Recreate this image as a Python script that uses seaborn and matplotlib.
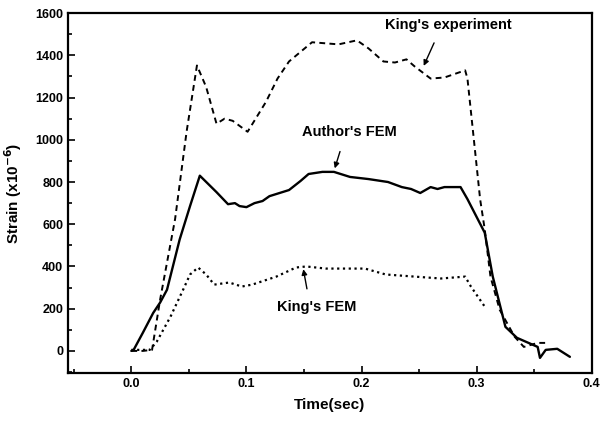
import matplotlib
matplotlib.use("Agg")
import matplotlib.pyplot as plt
import seaborn as sns
import pandas as pd
from matplotlib.ticker import MultipleLocator

# King's experiment (dashed)
exp_t = [0.0, 0.010, 0.018, 0.025, 0.038, 0.048, 0.057, 0.065, 0.074, 0.081, 0.088, 0.101,
         0.108, 0.117, 0.127, 0.137, 0.157, 0.180, 0.196, 0.206, 0.219, 0.229, 0.239, 0.246,
         0.260, 0.272, 0.290, 0.292, 0.303, 0.307, 0.312, 0.320, 0.333, 0.341, 0.353, 0.363]
exp_s = [0, 0, 5, 243, 624, 1038, 1352, 1250, 1076, 1100, 1090, 1038,
         1100, 1180, 1290, 1371, 1462, 1452, 1471, 1433, 1371, 1366, 1381, 1348,
         1290, 1295, 1329, 1290, 719, 576, 352, 195, 67, 19, 38, 38]

# Author's FEM (solid)
auth_t = [0.0, 0.002, 0.010, 0.019, 0.025, 0.031, 0.042, 0.051, 0.0595, 0.074, 0.084, 0.090,
          0.094, 0.100, 0.107, 0.114, 0.120, 0.137, 0.147, 0.154, 0.166, 0.176, 0.190, 0.206,
          0.223, 0.235, 0.243, 0.251, 0.260, 0.266, 0.272, 0.286, 0.292, 0.307, 0.314, 0.325,
          0.335, 0.353, 0.355, 0.360, 0.370, 0.381]
auth_s = [0, 5, 86, 180, 229, 290, 528, 686, 830, 752, 695, 700,
          686, 681, 700, 710, 733, 762, 805, 838, 848, 848, 824, 814,
          800, 776, 767, 748, 776, 767, 776, 776, 719, 560, 352, 114,
          62, 19, -33, 5, 10, -28]

# King's FEM (dotted)
kfem_t = [0.0, 0.016, 0.022, 0.034, 0.045, 0.051, 0.058, 0.065, 0.072, 0.085, 0.096, 0.105,
          0.126, 0.143, 0.152, 0.169, 0.203, 0.221, 0.246, 0.269, 0.290, 0.295, 0.307]
kfem_s = [5, 5, 43, 162, 290, 362, 395, 362, 314, 324, 305, 314,
          352, 395, 400, 390, 390, 362, 352, 343, 352, 305, 210]

x_ticks = [0.0, 0.1, 0.2, 0.3, 0.4]
y_ticks = [0, 200, 400, 600, 800, 1000, 1200, 1400, 1600]

sns.set_theme(style="ticks")
plt.rcParams['font.family'] = ['Liberation Sans', 'DejaVu Sans']
plt.rcParams['font.weight'] = 'bold'
plt.rcParams['text.color'] = 'black'
plt.rcParams['axes.labelcolor'] = 'black'
plt.rcParams['xtick.color'] = 'black'
plt.rcParams['ytick.color'] = 'black'
plt.rcParams['mathtext.default'] = 'bf'

fig = plt.figure(figsize=(6.02, 4.23), dpi=100)
ax = fig.add_axes([0.113, 0.118, 0.870, 0.851])

df_exp = pd.DataFrame({"t": exp_t, "s": exp_s})
df_auth = pd.DataFrame({"t": auth_t, "s": auth_s})
df_kfem = pd.DataFrame({"t": kfem_t, "s": kfem_s})

sns.lineplot(data=df_exp, x="t", y="s", ax=ax, color="black", lw=1.4,
             linestyle=(0, (3, 2.2)), sort=False)
sns.lineplot(data=df_auth, x="t", y="s", ax=ax, color="black", lw=1.7, sort=False)
sns.lineplot(data=df_kfem, x="t", y="s", ax=ax, color="black", lw=1.6,
             linestyle=(0, (1, 1.6)), sort=False)

ax.set_xlim(-0.055, 0.4)
ax.set_ylim(-105, 1600)
ax.set_xticks(x_ticks)
ax.set_xticklabels([f"{v:.1f}" for v in x_ticks])
ax.set_yticks(y_ticks)
ax.xaxis.set_minor_locator(MultipleLocator(0.05))
ax.yaxis.set_minor_locator(MultipleLocator(100))
ax.tick_params(which="both", direction="in", color="black", width=1.2)
ax.tick_params(which="major", length=5, labelsize=9, labelcolor="black")
ax.tick_params(which="minor", length=3)
for lab in ax.get_xticklabels() + ax.get_yticklabels():
    lab.set_fontweight("bold")

for sp in ax.spines.values():
    sp.set_visible(True)
    sp.set_color("black")
    sp.set_linewidth(1.6)

ax.set_xlabel("Time(sec)", fontsize=11, fontweight="bold", labelpad=6, color="black")
ax.set_ylabel("Strain (x10$^{-6}$)", fontsize=11, fontweight="bold", labelpad=8, color="black")

arrow = dict(arrowstyle="-|>", color="black", lw=1.0, mutation_scale=8)
ax.annotate("", xy=(0.253, 1338), xytext=(0.264, 1471), arrowprops=arrow)
ax.text(0.275, 1543, "King's experiment", ha="center", va="center", fontsize=10.5,
        fontweight="bold", color="black")
ax.annotate("", xy=(0.176, 852), xytext=(0.182, 957), arrowprops=arrow)
ax.text(0.189, 1038, "Author's FEM", ha="center", va="center", fontsize=10.5,
        fontweight="bold", color="black")
ax.annotate("", xy=(0.149, 400), xytext=(0.153, 281), arrowprops=arrow)
ax.text(0.161, 210, "King's FEM", ha="center", va="center", fontsize=10.5,
        fontweight="bold", color="black")

fig.savefig("out.png", dpi=100)
